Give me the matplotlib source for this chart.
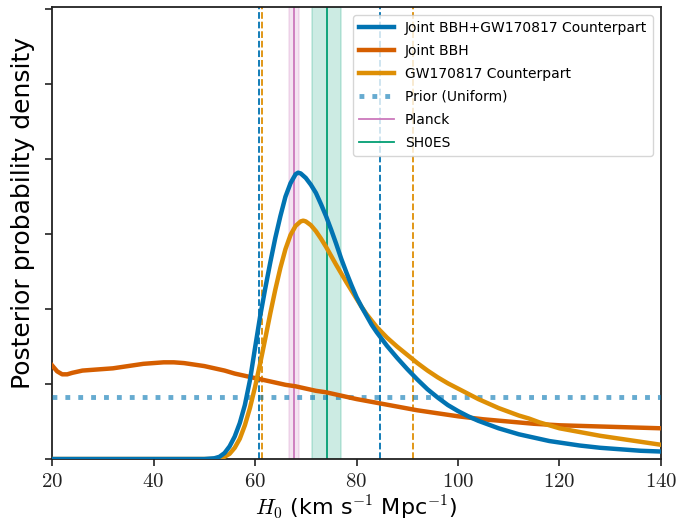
import matplotlib
matplotlib.use('Agg')
import matplotlib.pyplot as plt
from matplotlib.ticker import FuncFormatter

plt.rcParams['mathtext.fontset'] = 'cm'
plt.rcParams['font.family'] = 'DejaVu Sans'

# posterior for H0 (km/s/Mpc)
h0_joint = [20, 45, 50, 52, 53, 54, 55, 56, 57, 58, 59, 60, 61, 62, 63, 64, 65, 66, 67, 68,
            68.5, 69, 70, 71, 72, 73, 74, 75, 76, 77, 78, 79, 80, 81, 82, 83, 84, 85, 86,
            88, 90, 92, 94, 96, 98, 100, 102, 104, 106, 108, 110, 112, 114, 116, 118, 120,
            124, 128, 132, 136, 140]
p_joint = [0.0, 0.0, 0.0, 0.0001, 0.0003, 0.0008, 0.0017, 0.0030, 0.0048, 0.0072, 0.0105,
           0.0148, 0.0190, 0.0227, 0.0262, 0.0295, 0.0324, 0.0350, 0.0368, 0.0380,
           0.0382, 0.0381, 0.0375, 0.0366, 0.0355, 0.0340, 0.0324, 0.0306, 0.0287, 0.0267,
           0.0249, 0.0232, 0.0216, 0.0203, 0.0191, 0.0179, 0.0169, 0.0160, 0.0151,
           0.0135, 0.0120, 0.0106, 0.0093, 0.0082, 0.0072, 0.0064, 0.0057, 0.0051,
           0.0046, 0.0041, 0.0037, 0.0033, 0.0030, 0.0027, 0.0024, 0.0022,
           0.0018, 0.0015, 0.0013, 0.0011, 0.0010]

h0_bbh = [20, 21, 22, 23, 24, 26, 28, 30, 32, 34, 36, 38, 40, 42, 44, 46, 48, 50, 52, 54,
          56, 58, 60, 62, 64, 66, 68, 70, 72, 74, 76, 78, 80, 84, 88, 92, 96, 100, 105,
          110, 115, 120, 125, 130, 135, 140]
p_bbh = [0.0125, 0.0117, 0.0113, 0.0113, 0.0115, 0.0118, 0.0119, 0.0120, 0.0121, 0.0123,
         0.0125, 0.0127, 0.0128, 0.0129, 0.0129, 0.0128, 0.0126, 0.0124, 0.0121, 0.0118,
         0.0114, 0.0111, 0.0108, 0.0105, 0.0102, 0.0099, 0.0097, 0.0094, 0.0091, 0.0089,
         0.0086, 0.0083, 0.0080, 0.0075, 0.0070, 0.0065, 0.0061, 0.0057, 0.0053, 0.0050,
         0.0047, 0.0045, 0.0044, 0.0043, 0.0042, 0.0041]

h0_em = [20, 45, 52, 53, 54, 55, 56, 57, 58, 59, 60, 61, 62, 63, 64, 65, 66, 67, 68, 69,
         69.5, 70, 71, 72, 73, 74, 75, 76, 78, 80, 81, 82, 84, 86, 88, 90, 92, 94, 96, 98,
         100, 102, 104, 106, 108, 110, 112, 114, 116, 118, 120, 124, 128, 132, 136, 140]
p_em = [0.0, 0.0, 0.0, 0.0001, 0.0003, 0.0007, 0.0015, 0.0027, 0.0045, 0.0068, 0.0096,
        0.0127, 0.0160, 0.0194, 0.0226, 0.0255, 0.0280, 0.0299, 0.0311, 0.0317, 0.0318,
        0.0317, 0.0312, 0.0304, 0.0294, 0.0283, 0.0271, 0.0259, 0.0236, 0.0214, 0.0203,
        0.0193, 0.0176, 0.0162, 0.0150, 0.0139, 0.0128, 0.0118, 0.0109, 0.0101,
        0.0094, 0.0087, 0.0080, 0.0074, 0.0068, 0.0063, 0.0058, 0.0054, 0.0049, 0.0045,
        0.0041, 0.0036, 0.0031, 0.0027, 0.0023, 0.0019]

prior_range = [20, 140]
joint_ci = [60.7, 84.6]
em_ci = [61.3, 91.2]
planck = [67.6, 1.0]   # centre, half width of band
shoes = [74.1, 2.85]

blue = '#0173b2'
vermillion = '#d55e00'
orange = '#de8f05'
pink = '#cc78bc'
green = '#029e73'

fig = plt.figure(figsize=(6.81, 5.24), dpi=100)
ax = fig.add_axes([0.0764, 0.124, 0.8942, 0.8626])

ax.plot(h0_joint, p_joint, color=blue, lw=3.2, label='Joint BBH+GW170817 Counterpart', zorder=5)
ax.plot(h0_bbh, p_bbh, color=vermillion, lw=3.2, label='Joint BBH', zorder=4)
ax.plot(h0_em, p_em, color=orange, lw=3.2, label='GW170817 Counterpart', zorder=4)
prior_val = 1.0 / (prior_range[1] - prior_range[0])
ax.plot(prior_range, [prior_val, prior_val], color=blue, alpha=0.6, lw=3.5, ls=':',
        label='Prior (Uniform)', zorder=3)

ax.axvline(planck[0], color=pink, lw=1.3, label='Planck')
ax.axvspan(planck[0] - planck[1], planck[0] + planck[1], color=pink, alpha=0.2, lw=1.2)
ax.axvline(shoes[0], color=green, lw=1.3, label='SH0ES')
ax.axvspan(shoes[0] - shoes[1], shoes[0] + shoes[1], color=green, alpha=0.2, lw=1.2)

for v in joint_ci:
    ax.axvline(v, color=blue, ls='--', lw=1.3)
for v in em_ci:
    ax.axvline(v, color=orange, ls='--', lw=1.3)

ax.set_xlim(20, 140)
ax.set_ylim(0, 0.0603)
ax.set_xticks([20, 40, 60, 80, 100, 120, 140])
ax.set_yticks([0, 0.01, 0.02, 0.03, 0.04, 0.05, 0.06])
ax.xaxis.set_major_formatter(FuncFormatter(lambda v, p: r'$%d$' % v))
ax.set_yticklabels([])
ax.tick_params(direction='out', length=5, width=1.2, labelsize=15, colors='#222222')

for s in ax.spines.values():
    s.set_linewidth(1.3)
    s.set_color('#222222')

ax.set_xlabel(r'$H_0$ (km s$^{-1}$ Mpc$^{-1}$)', fontsize=16, labelpad=2)
ax.set_ylabel('Posterior probability density', fontsize=18)
ax.yaxis.set_label_coords(-0.028, 0.545)

ax.legend(loc='upper right', fontsize=10, handlelength=2.5, borderaxespad=0.6,
          labelspacing=0.65, framealpha=0.8, edgecolor='#cccccc')

fig.savefig('out.png', dpi=100)
